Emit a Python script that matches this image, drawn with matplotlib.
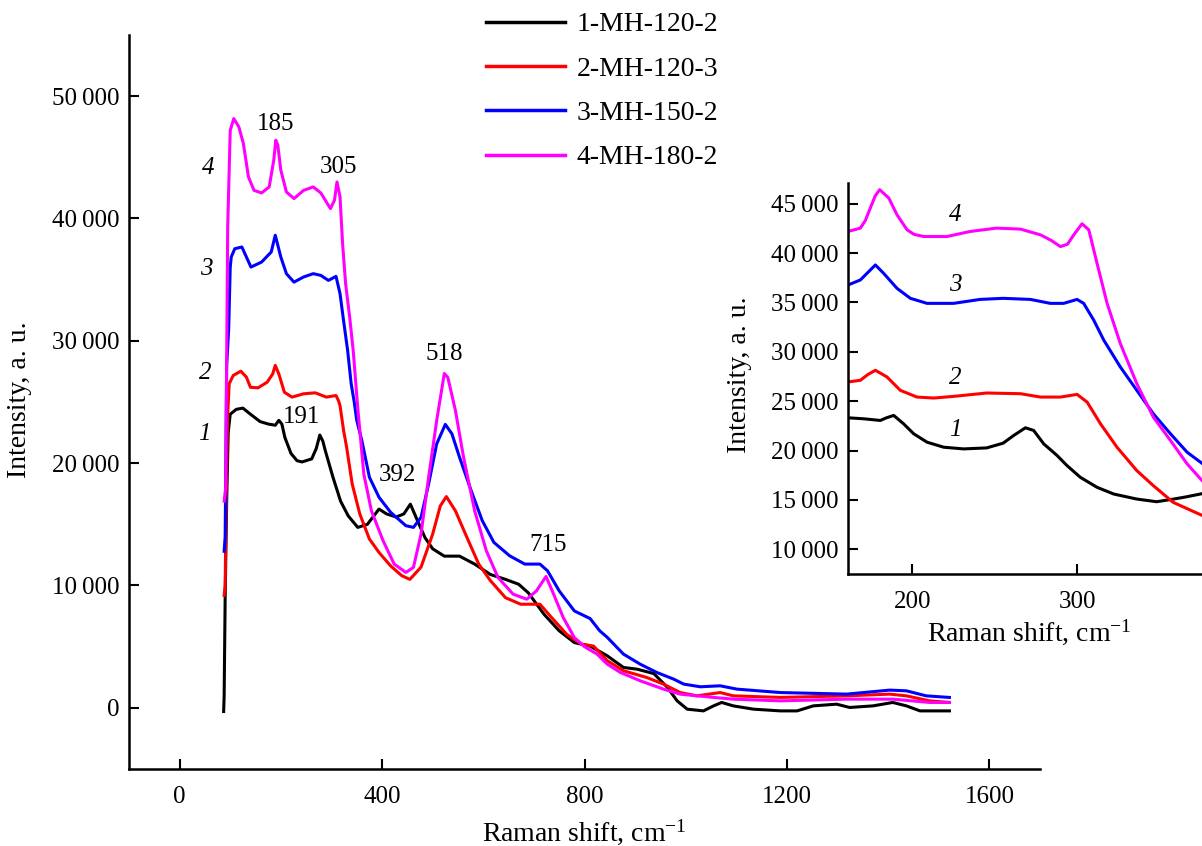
import matplotlib
matplotlib.use("Agg")
import matplotlib.pyplot as plt
from matplotlib.lines import Line2D
from matplotlib.ticker import FuncFormatter

plt.rcParams['font.family'] = ['Liberation Serif', 'DejaVu Serif']
plt.rcParams['mathtext.fontset'] = 'custom'
plt.rcParams['mathtext.rm'] = 'Liberation Serif'
plt.rcParams['mathtext.it'] = 'Liberation Serif:italic'

# ---------------- data: main panel ----------------
x1 = [87, 88, 90, 93, 96, 100, 112, 125, 140, 159, 175, 189, 196, 202, 208, 220, 232, 242, 261, 270, 277, 283, 288,
      303, 318, 333, 352, 371, 394, 409, 428, 443, 456, 470, 485, 500, 523, 553, 583, 614, 644, 670, 689, 720, 750,
      780, 811, 845, 877, 904, 937, 964, 983, 1003, 1035, 1055, 1071, 1094, 1134, 1187, 1220, 1252, 1298, 1324,
      1370, 1409, 1436, 1463, 1521]
y1 = [-300, 1000, 9000, 17000, 22500, 24000, 24400, 24500, 24000, 23400, 23200, 23100, 23500, 23200, 22100, 20800,
      20200, 20100, 20350, 21200, 22300, 21800, 21000, 18850, 16900, 15700, 14750, 15000, 16250, 15850, 15600, 15850,
      16650, 15300, 13900, 13000, 12400, 12400, 11750, 10900, 10500, 10100, 9400, 7650, 6300, 5330, 5050, 4250, 3300,
      3160, 2800, 1660, 570, -110, -250, 160, 440, 160, -110, -250, -250, 160, 300, 30, 160, 440, 160, -250, -250]

x2 = [88, 90, 92, 95, 98, 106, 121, 132, 140, 155, 173, 184, 189, 196, 207, 222, 245, 268, 290, 309, 314, 317, 324,
      330, 341, 356, 375, 394, 417, 439, 455, 477, 500, 515, 527, 545, 568, 591, 614, 644, 674, 712, 735, 765, 795,
      818, 845, 877, 923, 956, 989, 1022, 1068, 1094, 1187, 1318, 1403, 1436, 1482, 1521]
y2 = [9200, 10000, 17000, 24000, 26500, 27170, 27520, 27030, 26200, 26160, 26620, 27300, 27990, 27300, 25800, 25400,
      25670, 25750, 25400, 25530, 25100, 24700, 22670, 21300, 18300, 15850, 13800, 12700, 11600, 10800, 10500, 11500,
      14200, 16500, 17270, 16100, 13900, 11750, 10400, 9000, 8470, 8470, 7380, 6000, 5200, 5050, 3850, 3030, 2480,
      1940, 1250, 980, 1250, 980, 850, 980, 1120, 980, 570, 440]

x3 = [88, 90, 93, 97, 100, 102, 109, 123, 132, 141, 162, 181, 189, 200, 211, 226, 245, 264, 279, 294, 309, 317, 323,
      332, 339, 345, 350, 360, 375, 394, 417, 447, 462, 477, 492, 508, 525, 538, 553, 576, 598, 621, 652, 682, 712,
      727, 750, 780, 811, 830, 845, 877, 910, 943, 976, 996, 1029, 1068, 1101, 1187, 1318, 1403, 1436, 1475, 1521]
y3 = [12800, 14000, 28000, 31000, 36000, 36850, 37530, 37670, 36850, 36030, 36440, 37260, 38630, 36850, 35490, 34800,
      35220, 35490, 35350, 34940, 35270, 33850, 31940, 29210, 26490, 25000, 23500, 21860, 18850, 17210, 15980, 14890,
      14750, 15570, 18300, 21580, 23170, 22400, 20490, 17760, 15300, 13520, 12430, 11750, 11750, 11200, 9560, 7920,
      7300, 6300, 5760, 4390, 3570, 2890, 2350, 1940, 1720, 1800, 1530, 1250, 1120, 1450, 1390, 980, 850]

x4 = [88, 91, 93, 95, 100, 107, 117, 126, 136, 147, 162, 177, 186, 190, 194, 200, 211, 226, 245, 264, 279, 298, 306,
      311, 317, 322, 328, 336, 343, 352, 364, 379, 402, 424, 447, 462, 477, 492, 508, 523, 530, 545, 561, 583, 606,
      629, 659, 686, 705, 724, 739, 758, 780, 800, 825, 845, 871, 910, 956, 989, 1055, 1094, 1187, 1318, 1409, 1482,
      1521]
y4 = [16900, 18000, 28700, 39300, 47200, 48170, 47490, 46130, 43400, 42300, 42090, 42580, 44760, 46400, 46000, 43940,
      42170, 41630, 42300, 42580, 42090, 40810, 41500, 42990, 41760, 37940, 34670, 31940, 29210, 24500, 19100, 16100,
      13660, 11750, 11070, 11480, 14200, 18850, 23500, 27330, 27000, 24300, 20490, 16100, 12840, 10660, 9290, 8880,
      9560, 10740, 9290, 7380, 5740, 5000, 4390, 3570, 2890, 2210, 1530, 1120, 850, 710, 570, 710, 710, 440, 440]

# ---------------- data: inset ----------------
ix1 = [161, 170.5, 180.6, 184, 188.7, 194.7, 200.8, 208.9, 219, 231, 245, 255, 261.4, 268.5, 273.5, 279.6, 287.7,
       293.7, 301.8, 311.9, 322, 336, 348, 358.4, 366.5, 378]
iy1 = [23320, 23220, 23050, 23300, 23560, 22710, 21700, 20850, 20340, 20170, 20270, 20750, 21530, 22310, 22040, 20680,
       19500, 18480, 17290, 16280, 15600, 15090, 14820, 15090, 15330, 15720]

ix2 = [161, 168.5, 173, 177.6, 184.6, 192.7, 202.8, 212.9, 225, 245, 265.5, 277.6, 289.7, 299.8, 305.9, 314, 324,
       336, 346, 358, 378]
iy2 = [26950, 27120, 27700, 28130, 27460, 26100, 25420, 25320, 25490, 25830, 25760, 25420, 25420, 25690, 24910, 22710,
       20340, 17970, 16450, 14760, 13250]

ix3 = [161, 168.5, 172.5, 177.6, 182.6, 190.7, 198.8, 208.9, 225, 241, 255, 271.5, 283.6, 291.7, 299.8, 303.8, 309.9,
       316, 326, 336, 346, 356.4, 366.5, 378]
iy3 = [36770, 37280, 37950, 38800, 37950, 36430, 35420, 34910, 34910, 35310, 35420, 35310, 34910, 34910, 35310, 34910,
       33210, 31180, 28470, 26100, 23730, 21700, 19830, 18400]

ix4 = [161, 168.5, 171.5, 174.5, 177.5, 180.2, 185.7, 190.7, 196.8, 201, 206.9, 221, 235, 251, 265.5, 277.6, 284,
       289.7, 294, 297.8, 302.8, 306.9, 311.9, 318, 326, 336, 346, 356.4, 366.5, 378]
iy4 = [42190, 42530, 43300, 44560, 45800, 46420, 45580, 43880, 42360, 41900, 41680, 41680, 42190, 42530, 42430, 41850,
       41300, 40660, 40900, 41850, 42970, 42360, 38970, 34910, 30840, 26780, 23390, 21020, 18650, 16500]

labels = ['1-MH-120-2', '2-MH-120-3', '3-MH-150-2', '4-MH-180-2']
colors = ['#000000', '#ff0000', '#0000ff', '#ff00ff']
curve_nums = ['1', '2', '3', '4']

main_x_ticks = [0, 400, 800, 1200, 1600]
main_y_ticks = [0, 10000, 20000, 30000, 40000, 50000]
inset_x_ticks = [200, 300]
inset_y_ticks = [10000, 15000, 20000, 25000, 30000, 35000, 40000, 45000]

peak_labels = ['185', '305', '191', '518', '392', '715']
peak_pos = [(189, 47700), (313, 44200), (241, 23800), (522, 28900), (431, 19070), (729, 13350)]
main_num_pos = [(49, 22420), (51, 27330), (53, 35840), (57, 44100)]
inset_num_pos = [(226, 22040), (226, 27320), (226, 36770), (226, 43880)]

FS = 18
LFS = 20
LW = 2.2


def fmt(v, pos):
    v = int(round(v))
    if v == 0:
        return '0'
    s = f"{v:,}"
    return s.replace(',', '\u2009')


def style_axes(ax):
    for s in ['top', 'right']:
        ax.spines[s].set_visible(False)
    for s in ['left', 'bottom']:
        ax.spines[s].set_linewidth(1.8)
    ax.tick_params(axis='both', direction='in', length=7, width=1.5, labelsize=FS)
    ax.tick_params(axis='y', pad=7)
    ax.tick_params(axis='x', pad=12)
    ax.yaxis.set_major_formatter(FuncFormatter(fmt))


fig = plt.figure(figsize=(12.02, 8.46), dpi=100)

ax = fig.add_axes([129 / 1202, 77 / 846, 911 / 1202, 734 / 846])
style_axes(ax)
xs = [x1, x2, x3, x4]
ys = [y1, y2, y3, y4]
for xv, yv, c, lab in zip(xs, ys, colors, labels):
    ax.plot(xv, yv, color=c, lw=LW, label=lab)
ax.set_xlim(-100, 1700)
ax.set_ylim(-5000, 55000)
ax.set_xticks(main_x_ticks)
ax.set_yticks(main_y_ticks)
ax.set_xlabel('Raman shift, cm$^{-1}$', fontsize=LFS)
ax.set_ylabel('Intensity, a. u.', fontsize=LFS)
ax.xaxis.set_label_coords(0.5, -0.066)
ax.yaxis.set_label_coords(-0.1065, 0.503)

for t, (px, py) in zip(peak_labels, peak_pos):
    ax.text(px, py, t, fontsize=FS, ha='center', va='center')
for t, (px, py) in zip(curve_nums, main_num_pos):
    ax.text(px, py, t, fontsize=FS, ha='center', va='center', style='italic')

handles = [Line2D([], [], color=c, lw=LW + 0.3) for c in colors]
ax.legend(handles, labels, loc='upper left', bbox_to_anchor=(486 / 1202, 1 - 12 / 846),
          bbox_transform=fig.transFigure, frameon=False, fontsize=LFS, handlelength=2.85,
          handletextpad=0.4, labelspacing=0.68, borderpad=0, borderaxespad=0)

# ---------------- inset ----------------
ax2 = fig.add_axes([848 / 1202, (846 - 574) / 846, 354 / 1202, 391 / 846])
style_axes(ax2)
ixs = [ix1, ix2, ix3, ix4]
iys = [iy1, iy2, iy3, iy4]
for xv, yv, c in zip(ixs, iys, colors):
    ax2.plot(xv, yv, color=c, lw=LW)
ax2.set_xlim(161, 375.5)
ax2.set_ylim(7500, 47100)
ax2.set_xticks(inset_x_ticks)
ax2.set_yticks(inset_y_ticks)
ax2.set_xlabel('Raman shift, cm$^{-1}$', fontsize=LFS)
ax2.set_ylabel('Intensity, a. u.', fontsize=LFS)
ax2.xaxis.set_label_coords(0.511, -0.11)
ax2.yaxis.set_label_coords(-0.271, 0.509)
for t, (px, py) in zip(curve_nums, inset_num_pos):
    ax2.text(px, py, t, fontsize=FS, ha='center', va='center', style='italic')

fig.savefig('out.png', dpi=100)
